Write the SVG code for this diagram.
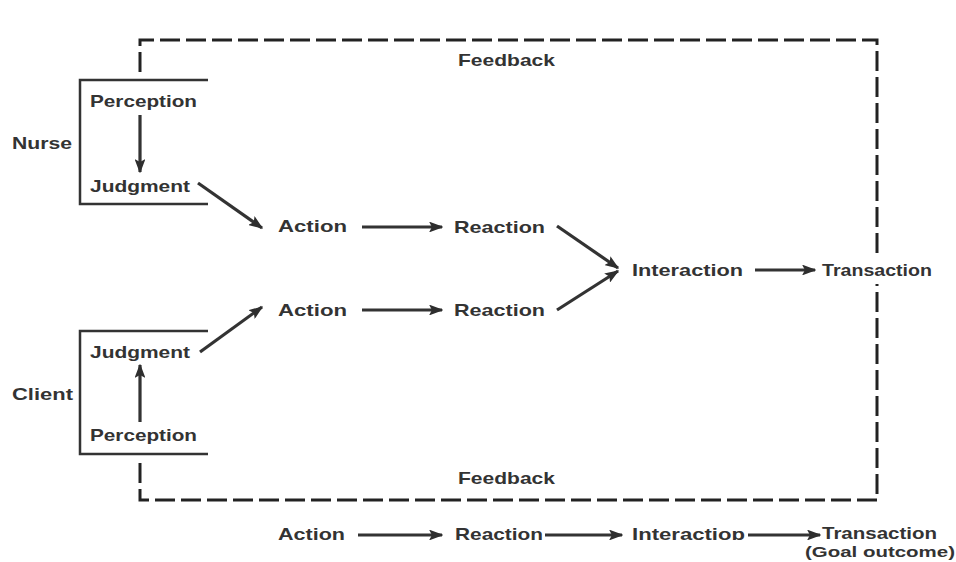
<svg xmlns="http://www.w3.org/2000/svg" width="956" height="562" viewBox="0 0 956 562">
<defs>
<marker id="ah" viewBox="0 0 10 10" refX="9" refY="5" markerWidth="4.5" markerHeight="3.4" markerUnits="strokeWidth" orient="auto" preserveAspectRatio="none">
<path d="M0,0 L10,5 L0,10 L2,5 Z" fill="#2e2e2e"/>
</marker>
<style>
text{font-family:"Liberation Sans",Arial,sans-serif;font-weight:bold;font-size:17px;fill:#333;}
.dash{fill:none;stroke:#222;stroke-width:3;stroke-dasharray:20 6;}
.br{fill:none;stroke:#333;stroke-width:2.5;}
.ar{fill:none;stroke:#333;stroke-width:3.2;marker-end:url(#ah);}
</style>
</defs>
<rect width="956" height="562" fill="#fff"/>
<g id="feedback-loop">
<path class="dash" d="M140,72 V40 H877 V256"/>
<path class="dash" d="M140,463 V500 H877 V284"/>
<text x="458" y="66" textLength="97" lengthAdjust="spacingAndGlyphs">Feedback</text>
<text x="458" y="484" textLength="97" lengthAdjust="spacingAndGlyphs">Feedback</text>
</g>
<g id="nurse">
<path class="br" d="M208,80 H80 V204 H208"/>
<text x="12" y="149" textLength="60" lengthAdjust="spacingAndGlyphs">Nurse</text>
<text x="90" y="107" textLength="107" lengthAdjust="spacingAndGlyphs">Perception</text>
<text x="90" y="192" textLength="100" lengthAdjust="spacingAndGlyphs">Judgment</text>
</g>
<g id="client">
<path class="br" d="M208,331 H80 V454 H208"/>
<text x="12" y="400" textLength="61" lengthAdjust="spacingAndGlyphs">Client</text>
<text x="90" y="358" textLength="100" lengthAdjust="spacingAndGlyphs">Judgment</text>
<text x="90" y="441" textLength="107" lengthAdjust="spacingAndGlyphs">Perception</text>
</g>
<g id="action1"><text x="278" y="232" textLength="69" lengthAdjust="spacingAndGlyphs">Action</text></g>
<g id="reaction1"><text x="454" y="233" textLength="91" lengthAdjust="spacingAndGlyphs">Reaction</text></g>
<g id="action2"><text x="278" y="316" textLength="69" lengthAdjust="spacingAndGlyphs">Action</text></g>
<g id="reaction2"><text x="454" y="316" textLength="91" lengthAdjust="spacingAndGlyphs">Reaction</text></g>
<g id="interaction"><text x="632" y="276" textLength="111" lengthAdjust="spacingAndGlyphs">Interaction</text></g>
<g id="transaction"><text x="822" y="276" textLength="110" lengthAdjust="spacingAndGlyphs">Transaction</text></g>
<g id="summary">
<text x="278" y="540" textLength="67" lengthAdjust="spacingAndGlyphs">Action</text>
<text x="455" y="540" textLength="88" lengthAdjust="spacingAndGlyphs">Reaction</text>
<text x="632" y="540" textLength="113" lengthAdjust="spacingAndGlyphs">Interactioɒ</text>
<text x="822" y="539" textLength="115" lengthAdjust="spacingAndGlyphs">Transaction</text>
<text x="805" y="557" textLength="150" lengthAdjust="spacingAndGlyphs" style="font-size:15px">(Goal outcome)</text>
</g>
<g id="connectors">
<line class="ar" x1="140" y1="115" x2="140" y2="172"/>
<line class="ar" x1="140" y1="422" x2="140" y2="365"/>
<line class="ar" x1="198" y1="183" x2="262" y2="228"/>
<line class="ar" x1="200" y1="352" x2="262" y2="307"/>
<line class="ar" x1="362" y1="227" x2="442" y2="227"/>
<line class="ar" x1="362" y1="310" x2="442" y2="310"/>
<line class="ar" x1="557" y1="226" x2="618" y2="268"/>
<line class="ar" x1="557" y1="310" x2="618" y2="271"/>
<line class="ar" x1="755" y1="270" x2="815" y2="270"/>
<line class="ar" x1="358" y1="535" x2="442" y2="535"/>
<line class="ar" x1="545" y1="535" x2="622" y2="535"/>
<line class="ar" x1="748" y1="535" x2="820" y2="535"/>
</g>
</svg>
